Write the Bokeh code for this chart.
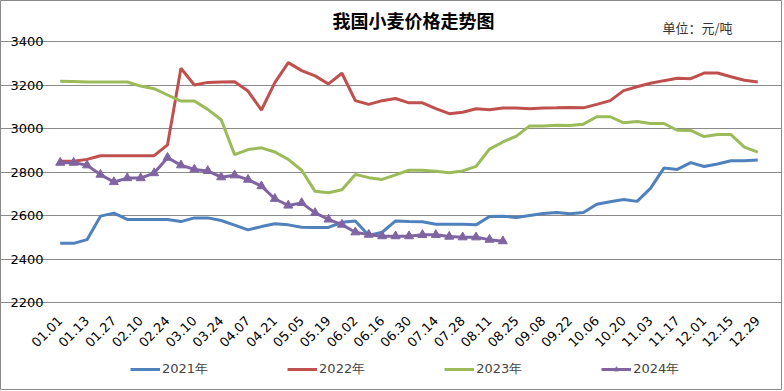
from bokeh.plotting import figure
from bokeh.models import Range1d, FixedTicker, Legend, LegendItem, Label, ColumnDataSource
from bokeh.embed import file_html
from bokeh.resources import INLINE
import math

dates = ["01.01", "01.06", "01.13", "01.20", "01.27", "02.03", "02.10", "02.17", "02.24",
         "03.03", "03.10", "03.17", "03.24", "03.31", "04.07", "04.14", "04.21", "04.28",
         "05.05", "05.12", "05.19", "05.26", "06.02", "06.09", "06.16", "06.23", "06.30",
         "07.07", "07.14", "07.21", "07.28", "08.04", "08.11", "08.18", "08.25", "09.01",
         "09.08", "09.15", "09.22", "09.29", "10.06", "10.13", "10.20", "10.27", "11.03",
         "11.10", "11.17", "11.24", "12.01", "12.08", "12.15", "12.22", "12.29"]

y2021 = [2472, 2472, 2489, 2597, 2611, 2582, 2582, 2582, 2582, 2572, 2589, 2589, 2577,
         2556, 2534, 2549, 2562, 2557, 2546, 2545, 2545, 2569, 2575, 2508, 2523, 2575,
         2572, 2571, 2560, 2560, 2560, 2557, 2595, 2597, 2591, 2600, 2609, 2614, 2608,
         2614, 2652, 2663, 2674, 2665, 2725, 2818, 2812, 2843, 2825, 2837, 2852, 2852, 2855]
y2022 = [2849, 2849, 2858, 2875, 2875, 2875, 2875, 2875, 2925, 3277, 3200, 3212, 3214,
         3215, 3172, 3085, 3211, 3303, 3266, 3242, 3205, 3254, 3128, 3111, 3128, 3138,
         3118, 3118, 3091, 3068, 3075, 3091, 3086, 3094, 3094, 3091, 3094, 3095, 3097,
         3095, 3111, 3128, 3174, 3192, 3208, 3220, 3231, 3229, 3255, 3255, 3238, 3222, 3214]
y2023 = [3217, 3216, 3214, 3214, 3214, 3214, 3195, 3183, 3154, 3126, 3126, 3088, 3040,
         2880, 2903, 2911, 2892, 2858, 2808, 2711, 2705, 2718, 2789, 2774, 2766, 2787,
         2808, 2808, 2803, 2797, 2805, 2826, 2905, 2938, 2965, 3012, 3012, 3015, 3014,
         3020, 3054, 3054, 3026, 3032, 3023, 3023, 2992, 2991, 2963, 2972, 2972, 2914, 2891]
y2024 = [2843, 2843, 2831, 2788, 2754, 2772, 2772, 2795, 2866, 2831, 2812, 2805, 2776,
         2785, 2765, 2735, 2677, 2646, 2658, 2612, 2582, 2558, 2523, 2512, 2505, 2505,
         2505, 2511, 2511, 2503, 2500, 2500, 2489, 2482]

series_names = ["2021年", "2022年", "2023年", "2024年"]
colors = ["#4F81BD", "#C0504D", "#9BBB59", "#8064A2"]
y_ticks = [2200, 2400, 2600, 2800, 3000, 3200, 3400]
title_text = "我国小麦价格走势图"
unit_text = "单位：元/吨"

# ---- layout (pixels) ----
W, H = 782, 390
PL, PR = 53, 764      # plot area left/right
PT, PB = 41, 302      # plot area top/bottom
n = len(dates)
ux = (PR - PL) / n                      # px per category
x0 = -0.5 - PL / ux
x1 = n - 0.5 + (W - PR) / ux
uy = (y_ticks[-1] - y_ticks[0]) / (PB - PT)
y1 = y_ticks[-1] + PT * uy
y0 = y_ticks[0] - (H - PB) * uy

p = figure(width=W, height=H, output_backend="svg", toolbar_location=None,
           x_range=Range1d(x0, x1), y_range=Range1d(y0, y1),
           min_border=0, min_border_left=0, min_border_right=0,
           min_border_top=0, min_border_bottom=0)
p.outline_line_color = "#8a8a8a"
p.outline_line_width = 1
p.background_fill_color = "white"
p.border_fill_color = "white"

p.xgrid.grid_line_color = None
p.ygrid.grid_line_color = "#8a8a8a"
p.ygrid.grid_line_width = 1
p.ygrid.bounds = (-0.5, n - 0.5)

p.yaxis.ticker = FixedTicker(ticks=y_ticks)
p.xaxis.ticker = FixedTicker(ticks=list(range(0, n, 2)))
p.xaxis.major_label_overrides = {i: dates[i] for i in range(0, n, 2)}
p.xaxis.major_label_orientation = math.pi / 4
p.xaxis.fixed_location = y_ticks[0]
p.yaxis.fixed_location = -0.5
for ax in (p.xaxis, p.yaxis):
    ax.axis_line_color = None
    ax.major_tick_line_color = None
    ax.minor_tick_line_color = None
    ax.major_tick_out = 0
    ax.major_tick_in = 0
    ax.minor_tick_out = 0
    ax.major_label_text_font = "DejaVu Sans"
    ax.major_label_text_color = "#000000"
    ax.major_label_text_font_size = "13px"
p.yaxis.major_label_standoff = 10
p.xaxis.major_label_standoff = 16

renderers = []
for i, ys in enumerate([y2021, y2022, y2023, y2024]):
    src = ColumnDataSource(dict(x=list(range(len(ys))), y=ys))
    rs = [p.line("x", "y", source=src, line_color=colors[i], line_width=3)]
    if i == 3:
        rs.append(p.scatter("x", "y", source=src, marker="triangle", size=9,
                            fill_color=colors[i], line_color=colors[i]))
    renderers.append(rs)

items = [LegendItem(label=series_names[i], renderers=renderers[i]) for i in range(4)]
legend = Legend(items=items, orientation="horizontal", location=(130, 12),
                label_text_font="DejaVu Sans", label_text_font_size="13px",
                glyph_width=30, glyph_height=12, label_standoff=2, spacing=79,
                border_line_color=None, background_fill_alpha=0, padding=0, margin=0)
p.add_layout(legend, "center")

p.add_layout(Label(x=413, y=H - 19, x_units="screen", y_units="screen", text=title_text,
                   text_align="center", text_baseline="middle", text_font="Noto Sans CJK SC",
                   text_font_size="18px", text_font_style="bold", text_color="#000000"))
p.add_layout(Label(x=697, y=H - 27, x_units="screen", y_units="screen", text=unit_text,
                   text_align="center", text_baseline="middle", text_font="Noto Sans CJK SC",
                   text_font_size="13px", text_color="#333333"))

open("out.html", "w").write(file_html(p, INLINE))
